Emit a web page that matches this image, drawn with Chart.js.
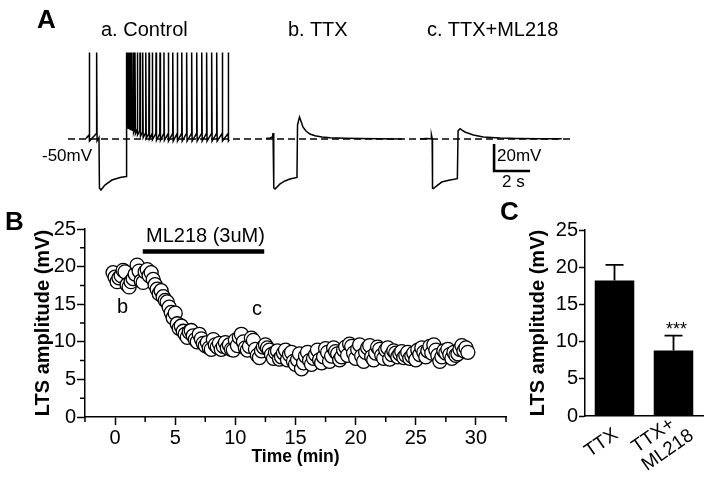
<!DOCTYPE html>
<html><head><meta charset="utf-8">
<script src="https://cdn.jsdelivr.net/npm/chart.js@4.4.0/dist/chart.umd.min.js"></script>
<style>
html,body{margin:0;padding:0;background:#fff;}
#wrap{position:relative;width:709px;height:478px;overflow:hidden;font-family:"Liberation Sans",Arial,sans-serif;color:#000;background:#fff;}
canvas{position:absolute;}
.t{position:absolute;white-space:nowrap;line-height:1;}
.L{font-weight:bold;font-size:26px;}
</style></head><body>
<div id="wrap">
<canvas id="cA" width="709" height="200" style="left:0;top:0"></canvas>
<canvas id="cB" width="530" height="278" style="left:0;top:200px"></canvas>
<canvas id="cC" width="199" height="278" style="left:510px;top:200px"></canvas>
<div class="t L" style="left:37px;top:6px">A</div>
<div class="t" style="left:101px;top:19px;font-size:20px">a. Control</div>
<div class="t" style="left:288px;top:19px;font-size:20px">b. TTX</div>
<div class="t" style="left:427px;top:19px;font-size:20px">c. TTX+ML218</div>
<div class="t" style="left:42px;top:147px;font-size:17px">-50mV</div>
<div class="t" style="left:497px;top:147px;font-size:17px">20mV</div>
<div class="t" style="left:502px;top:173px;font-size:17px">2 s</div>
<div class="t L" style="left:5px;top:208px">B</div>
<div class="t" style="left:146px;top:225px;font-size:20px">ML218 (3uM)</div>
<div class="t" style="left:117px;top:296px;font-size:20px">b</div>
<div class="t" style="left:252px;top:298px;font-size:20px">c</div>
<div class="t L" style="left:500px;top:198px">C</div>
<div class="t" style="left:666px;top:320px;font-size:18px">***</div>
</div>
<script>
// ---------- Panel A: voltage traces (time in s, membrane potential in mV) ----------
const ctlSpikeTimes = [0.07,0.48,2.15,2.21,2.26,2.32,2.38,2.44,2.52,2.61,2.74,2.89,3.04,3.21,3.39,3.57,3.78,4.00,4.22,4.46,4.71,4.96,5.21,5.48,5.76,6.04,6.32,6.59,6.87,7.15,7.46,7.79];
const ctlSpikeAHP   = [-51.5,-51.5,-41,-42,-42,-43,-43,-44,-45,-46,-47,-48,-49,-49.5,-50,-50.5,-51,-51,-51,-51.5,-51.5,-51.5,-51.5,-51.5,-51.5,-51.5,-51.5,-51.5,-51.5,-51.5,-51.5,-51.5];
const ctlSpikeThr   = [-47,-46,-40,-38,-38,-39,-39,-40,-41,-42,-43,-44,-45,-45.5,-46,-46,-46,-46,-46,-46,-46,-46,-46,-46,-46,-46,-46,-46,-46,-46,-46,-46];
const spikePeak = 14;
const ctlSub = [[-0.11,-49.6],[0.61,-49],[0.635,-86.3],[0.72,-87.8],[0.94,-84.1],[1.33,-80.4],[1.78,-78.5],[2.12,-77.8],[7.85,-50.5]];
const ttxTrace = [[9.89,-49.6],[10.11,-49.3],[10.25,-48.5],[10.28,-45.6],[10.31,-49.3],[10.33,-86.3],[10.39,-87.0],[10.67,-83.3],[10.94,-81.1],[11.22,-79.6],[11.61,-78.5],[11.64,-39.6],[11.75,-33.7],[11.83,-36.7],[11.94,-41.1],[12.11,-44.1],[12.33,-46.3],[12.61,-47.6],[13.0,-48.5],[13.44,-49.1],[14.28,-49.5],[15.11,-49.7],[16.22,-49.9],[17.44,-50]];
const mlTrace = [[18.44,-50],[18.78,-49.6],[19.06,-49.8],[19.08,-47.0],[19.12,-49.5],[19.14,-86.5],[19.18,-86.8],[19.65,-81.9],[20.11,-80.4],[20.52,-79.4],[20.56,-44],[20.67,-42.4],[20.78,-43.5],[20.94,-44.8],[21.41,-47.0],[21.96,-48.5],[22.89,-49.3],[23.82,-49.6],[25.11,-49.8],[26.32,-49.9]];
const restLevel = [[-1.11,-50],[26.9,-50]];
const scaleBar = [[22.56,-53.7],[22.56,-73.7],[24.56,-73.7]];

// ---------- Panel B: LTS amplitude over time (min, mV) ----------
const bTime = [-0.17,0,0.17,0.33,
0.5,0.67,0.83,1,1.17,1.33,
1.5,1.67,1.83,2,2.17,2.33,
2.5,2.67,2.83,3,3.17,3.33,
3.5,3.67,3.83,4,4.17,4.33,
4.5,4.67,4.83,5,5.17,5.33,
5.5,5.67,5.83,6,6.17,6.33,
6.5,6.67,6.83,7,7.17,7.33,
7.5,7.67,7.83,8,8.17,8.33,
8.5,8.67,8.83,9,9.17,9.33,
9.5,9.67,9.83,10,10.17,10.33,
10.5,10.67,10.83,11,11.17,11.33,
11.5,11.67,11.83,12,12.17,12.33,
12.5,12.67,12.83,13,13.17,13.33,
13.5,13.67,13.83,14,14.17,14.33,
14.5,14.67,14.83,15,15.17,15.33,
15.5,15.67,15.83,16,16.17,16.33,
16.5,16.67,16.83,17,17.17,17.33,
17.5,17.67,17.83,18,18.17,18.33,
18.5,18.67,18.83,19,19.17,19.33,
19.5,19.67,19.83,20,20.17,20.33,
20.5,20.67,20.83,21,21.17,21.33,
21.5,21.67,21.83,22,22.17,22.33,
22.5,22.67,22.83,23,23.17,23.33,
23.5,23.67,23.83,24,24.17,24.33,
24.5,24.67,24.83,25,25.17,25.33,
25.5,25.67,25.83,26,26.17,26.33,
26.5,26.67,26.83,27,27.17,27.33,
27.5,27.67,27.83,28,28.17,28.33,
28.5,28.67,28.83,29,29.17,29.33];
const bAmp = [19.2,18.6,18.0,18.5,
18.8,19.5,19.3,17.6,17.3,18.0,
18.4,19.0,20.2,19.4,18.1,17.9,
19.3,19.6,18.8,19.2,18.3,17.6,
17.0,16.4,16.8,16.0,15.5,15.3,
14.6,13.9,13.2,13.8,12.4,11.8,
12.1,11.4,11.0,10.6,11.3,11.5,
10.8,10.3,10.0,11.0,10.4,9.8,
9.5,9.9,9.2,9.0,10.3,9.6,
9.3,9.8,9.0,9.4,9.9,9.2,
9.6,9.0,8.9,10.2,9.5,10.6,
11.0,10.0,9.2,8.9,9.4,10.5,
10.2,9.0,8.2,7.9,8.8,9.3,
9.6,9.2,8.9,8.3,7.8,8.6,
8.8,7.7,8.0,8.5,8.9,7.6,
8.3,8.6,7.4,7.0,7.6,8.4,
6.4,7.2,8.1,8.6,7.5,7.0,
7.8,8.3,8.9,7.6,7.2,8.0,
9.1,8.6,7.4,8.1,9.2,8.7,
8.4,7.6,8.0,8.9,9.3,8.2,
9.7,9.4,8.5,7.8,9.0,9.6,
8.1,7.4,8.6,9.2,9.5,8.0,
7.6,8.5,9.3,9.0,8.2,7.8,
8.9,9.2,7.7,8.3,8.8,8.5,
8.0,8.4,8.7,7.9,8.2,8.6,
7.8,8.1,8.5,7.6,8.9,8.3,
9.2,8.6,8.0,8.8,9.4,8.5,
9.6,8.9,8.2,7.4,8.0,8.8,
8.5,9.0,8.3,7.8,8.6,8.2,
8.4,9.0,9.5,8.8,9.2,8.6];
const drugPeriod = [2.3, 12.4];
const drugBarLevel = 22;
const bTimeTicks = [0,5,10,15,20,25,30];
const bTimeMinor = [-2.5,2.5,7.5,12.5,17.5,22.5,27.5,32.5];
const bAmpMinor = [2.5,7.5,12.5,17.5,22.5];

// ---------- Panel C: mean LTS amplitude ----------
const cLabels = ['TTX', ['TTX+','ML218']];
const cMeans = [18.2, 8.8];
const cSEM = [2.1, 2.0];

const FONT = "'Liberation Sans', Arial, sans-serif";
Chart.defaults.font.family = FONT;
Chart.defaults.color = '#000';
Chart.defaults.animation = false;
Chart.defaults.plugins.legend.display = false;
Chart.defaults.plugins.tooltip.enabled = false;

// control trace assembled from the read spike times and subthreshold points
const ctlTrace = ctlSub.slice();
ctlSpikeTimes.forEach((t,i)=>{
  ctlTrace.push([t-0.012, ctlSpikeThr[i]],[t, spikePeak],[t+0.025, ctlSpikeAHP[i]]);
});
ctlTrace.sort((a,b)=>a[0]-b[0]);
const toXY = arr => arr.map(p=>({x:p[0],y:p[1]}));
const traceDs = (arr, extra) => Object.assign({data:toXY(arr), showLine:true, borderColor:'#000', borderWidth:1.5, pointRadius:0, tension:0, fill:false}, extra||{});

new Chart(document.getElementById('cA'), {
  type:'scatter',
  data:{datasets:[
    traceDs(ctlTrace), traceDs(ttxTrace), traceDs(mlTrace),
    traceDs(restLevel,{borderDash:[7,4],borderWidth:1.3}),
    traceDs(scaleBar,{borderWidth:2.6})
  ]},
  options:{responsive:false, devicePixelRatio:1, layout:{padding:0},
    scales:{x:{type:'linear',display:false,min:-4.889,max:34.5},
            y:{type:'linear',display:false,min:-95.19,max:52.96}}}
});

const axisCommon = {
  grid:{drawOnChartArea:false, drawTicks:true, tickLength:8, tickColor:'#000', tickWidth:1.5},
  border:{display:true, color:'#000', width:1.5}
};
const minorTicks = {id:'minorTicks', afterDraw(chart){
  const ctx=chart.ctx, xs=chart.scales.x, ys=chart.scales.y, a=chart.chartArea;
  ctx.save(); ctx.strokeStyle='#000'; ctx.lineWidth=1.5; ctx.beginPath();
  bTimeMinor.forEach(v=>{const p=xs.getPixelForValue(v); ctx.moveTo(p,a.bottom); ctx.lineTo(p,a.bottom+5);});
  bAmpMinor.forEach(v=>{const p=ys.getPixelForValue(v); ctx.moveTo(a.left,p); ctx.lineTo(a.left-5,p);});
  ctx.stroke(); ctx.restore();
}};

new Chart(document.getElementById('cB'), {
  type:'scatter',
  data:{datasets:[
    {data:bTime.map((t,i)=>({x:t,y:bAmp[i]})), pointRadius:7, pointBackgroundColor:'#fff', pointBorderColor:'#000', pointBorderWidth:1.3, showLine:false},
    {data:drugPeriod.map(t=>({x:t,y:drugBarLevel})), showLine:true, borderColor:'#000', borderWidth:4.5, pointRadius:0, borderCapStyle:'butt'}
  ]},
  options:{responsive:false, devicePixelRatio:1,
    layout:{padding:{top:29,right:24,left:0,bottom:0}},
    scales:{
      x:Object.assign({type:'linear', min:-2.5, max:32.5,
        afterBuildTicks:s=>{s.ticks=bTimeTicks.map(v=>({value:v}));},
        afterFit:s=>{s.height=61;},
        ticks:{font:{size:20}, padding:1, maxRotation:0},
        title:{display:true, text:'Time (min)', font:{size:17.5, weight:'bold'}, padding:{top:0,bottom:10}}}, axisCommon),
      y:Object.assign({type:'linear', min:0, max:25,
        afterFit:s=>{s.width=85;},
        ticks:{stepSize:5, font:{size:20}, padding:1},
        title:{display:true, text:'LTS amplitude (mV)', font:{size:20, weight:'bold'}, padding:{top:31,bottom:0}}}, axisCommon)
    }},
  plugins:[minorTicks]
});

const errBars = {id:'errBars', afterDatasetsDraw(chart){
  const ctx=chart.ctx, ys=chart.scales.y, meta=chart.getDatasetMeta(0);
  ctx.save(); ctx.strokeStyle='#000'; ctx.lineWidth=1.8; ctx.beginPath();
  meta.data.forEach((bar,i)=>{
    const top=ys.getPixelForValue(cMeans[i]+cSEM[i]);
    ctx.moveTo(bar.x, bar.y); ctx.lineTo(bar.x, top);
    ctx.moveTo(bar.x-9, top); ctx.lineTo(bar.x+9, top);
  });
  ctx.stroke(); ctx.restore();
}};
// rotated, centre-aligned category labels drawn at the category scale's tick positions
const slantLabels = {id:'slantLabels', afterDraw(chart){
  const ctx=chart.ctx, xs=chart.scales.x, base=chart.chartArea.bottom;
  const ang=-35*Math.PI/180, lh=22;
  ctx.save(); ctx.fillStyle='#000'; ctx.font="19px "+FONT; ctx.textAlign='center'; ctx.textBaseline='middle';
  cLabels.forEach((lab,i)=>{
    const lines=Array.isArray(lab)?lab:[lab];
    const ax=xs.getPixelForTick(i)-13, ay=base+27;
    lines.forEach((ln,j)=>{
      const k=j-(lines.length-1)/2;
      ctx.save();
      ctx.translate(ax+k*lh*Math.sin(-ang)*1.15, ay+k*lh*Math.cos(-ang)*0.82);
      ctx.rotate(ang); ctx.fillText(ln,0,0); ctx.restore();
    });
  });
  ctx.restore();
}};

new Chart(document.getElementById('cC'), {
  type:'bar',
  data:{labels:cLabels, datasets:[{data:cMeans, backgroundColor:'#000', borderWidth:0, barPercentage:0.67, categoryPercentage:1.0}]},
  options:{responsive:false, devicePixelRatio:1,
    layout:{padding:{top:30,right:6,left:0,bottom:0}},
    scales:{
      x:{afterFit:s=>{s.height=62;},
        grid:{display:true, drawOnChartArea:false, drawTicks:false},
        border:{display:true,color:'#000',width:1.5},
        ticks:{display:false}},
      y:{min:0, max:25, afterFit:s=>{s.width=75;},
        grid:{drawOnChartArea:false, drawTicks:true, tickLength:6, tickColor:'#000', tickWidth:1.5},
        border:{display:true,color:'#000',width:1.5},
        ticks:{stepSize:5, font:{size:20}, padding:1},
        title:{display:true, text:'LTS amplitude (mV)', font:{size:20, weight:'bold'}, padding:{top:16,bottom:0}}}
    }},
  plugins:[errBars, slantLabels]
});
</script>
</body></html>
